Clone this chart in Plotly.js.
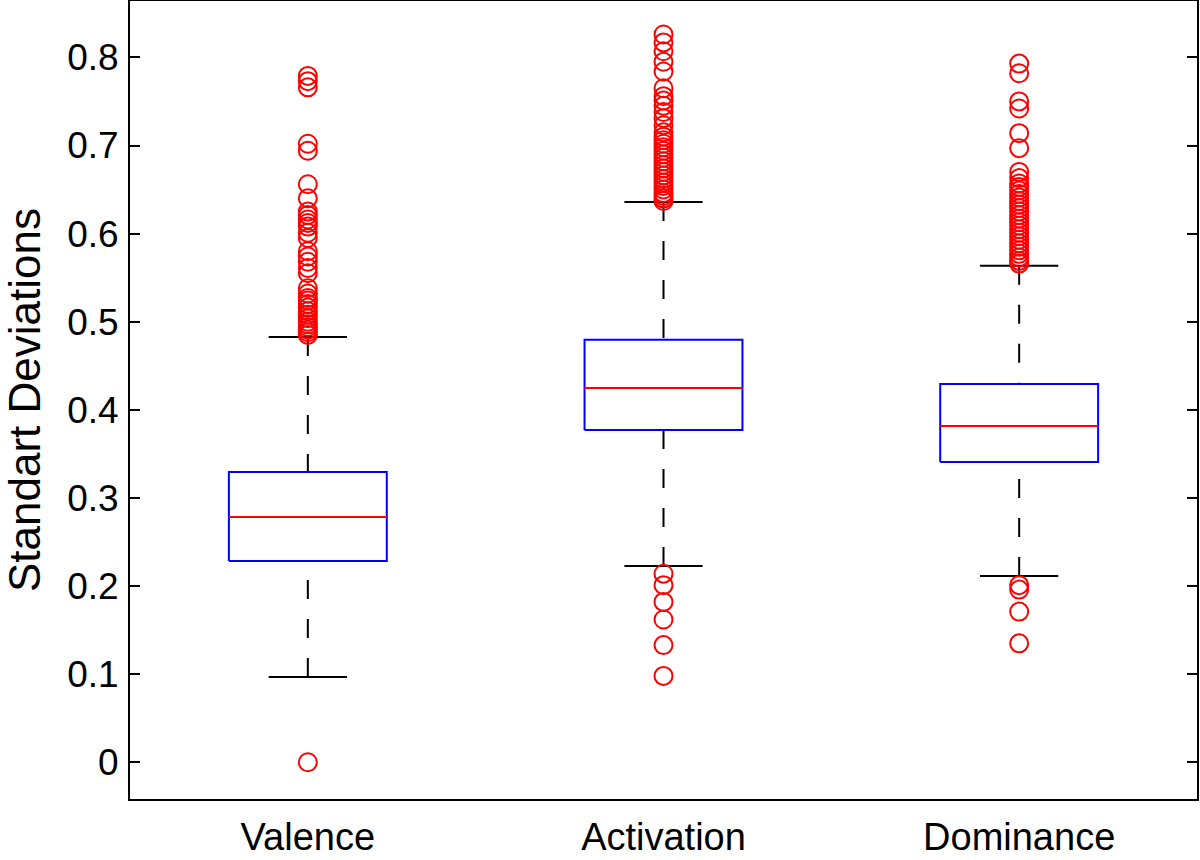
<!DOCTYPE html>
<html>
<head>
<meta charset="utf-8">
<script src="https://cdn.plot.ly/plotly-3.0.1.min.js"></script>
<style>html,body{margin:0;padding:0;background:#fff;}#chart{width:1200px;height:860px;}</style>
</head>
<body>
<div id="chart"></div>
<script>
const categories = ['Valence', 'Activation', 'Dominance'];
const q1 = [0.2285, 0.3772, 0.3409];
const medians = [0.2784, 0.4249, 0.3817];
const q3 = [0.3295, 0.4794, 0.4294];
const lowerWhisker = [0.0968, 0.2228, 0.2115];
const upperWhisker = [0.4827, 0.6360, 0.5634];

const valenceOutliers = [0.779, 0.773, 0.766, 0.702, 0.694, 0.656, 0.640,
  0.625, 0.621, 0.616, 0.612, 0.608, 0.601, 0.595, 0.580, 0.574, 0.568, 0.561, 0.555,
  0.538, 0.532, 0.527, 0.524, 0.520, 0.516, 0.512, 0.508, 0.504, 0.500, 0.497,
  0.494, 0.491, 0.488, 0.485, 0.0];
const activationOutliers = [0.826, 0.817, 0.807, 0.795, 0.784, 0.765, 0.756, 0.751,
  0.745, 0.738, 0.731, 0.723, 0.715, 0.710, 0.706, 0.702, 0.698, 0.694, 0.690, 0.686,
  0.682, 0.678, 0.674, 0.670, 0.666, 0.662, 0.658, 0.654, 0.650, 0.646, 0.643, 0.640,
  0.637, 0.214, 0.201, 0.182, 0.162, 0.133, 0.098];
const dominanceOutliers = [0.793, 0.782, 0.750, 0.742, 0.714, 0.697, 0.670, 0.663,
  0.657, 0.653, 0.649, 0.645, 0.641, 0.637, 0.633, 0.629, 0.625, 0.621, 0.617, 0.613,
  0.609, 0.605, 0.601, 0.597, 0.593, 0.589, 0.585, 0.581, 0.577, 0.573, 0.569, 0.566,
  0.201, 0.196, 0.171, 0.135];
const outliers = [valenceOutliers, activationOutliers, dominanceOutliers];

const boxHalf = 0.222;
const capHalf = 0.11;
const traces = [];
const positions = categories.map((c, i) => i + 1);

// whiskers (dashed, black)
positions.forEach((p, i) => {
  traces.push({x: [p, p], y: [upperWhisker[i], q3[i]], mode: 'lines', line: {color: '#000', width: 2, dash: '19px,20px'}, hoverinfo: 'skip'});
  traces.push({x: [p, p], y: [lowerWhisker[i], q1[i]], mode: 'lines', line: {color: '#000', width: 2, dash: '19px,20px'}, hoverinfo: 'skip'});
});
// caps
positions.forEach((p, i) => {
  traces.push({x: [p - capHalf, p + capHalf], y: [upperWhisker[i], upperWhisker[i]], mode: 'lines', line: {color: '#000', width: 2}, hoverinfo: 'skip'});
  traces.push({x: [p - capHalf, p + capHalf], y: [lowerWhisker[i], lowerWhisker[i]], mode: 'lines', line: {color: '#000', width: 2}, hoverinfo: 'skip'});
});
// boxes
positions.forEach((p, i) => {
  traces.push({x: [p - boxHalf, p + boxHalf, p + boxHalf, p - boxHalf, p - boxHalf], y: [q1[i], q1[i], q3[i], q3[i], q1[i]], mode: 'lines', line: {color: '#0000ff', width: 2}, hoverinfo: 'skip'});
});
// medians
positions.forEach((p, i) => {
  traces.push({x: [p - boxHalf, p + boxHalf], y: [medians[i], medians[i]], mode: 'lines', line: {color: '#ff0000', width: 2}, hoverinfo: 'skip'});
});
// outliers
positions.forEach((p, i) => {
  traces.push({x: outliers[i].map(() => p), y: outliers[i], mode: 'markers', marker: {symbol: 'circle-open', size: 18, color: '#ff0000', line: {width: 2, color: '#ff0000'}}});
});

const font = {family: 'Liberation Sans, Arial, Helvetica, sans-serif', color: '#000'};
const layout = {
  width: 1200, height: 860,
  margin: {l: 130, r: 3, t: 1, b: 61},
  paper_bgcolor: '#fff', plot_bgcolor: '#fff',
  showlegend: false,
  font: font,
  xaxis: {
    range: [0.5, 3.5], tickvals: positions, ticktext: categories,
    ticks: '', showgrid: false, zeroline: false,
    showline: true, linecolor: '#000', linewidth: 2, mirror: true,
    tickfont: {family: font.family, size: 38, color: '#000'},
    ticklabelstandoff: 3
  },
  yaxis: {
    range: [-0.0417, 0.864], tickvals: [0, 0.1, 0.2, 0.3, 0.4, 0.5, 0.6, 0.7, 0.8],
    ticktext: ['0', '0.1', '0.2', '0.3', '0.4', '0.5', '0.6', '0.7', '0.8'],
    ticks: 'inside', ticklen: 10, tickwidth: 2, tickcolor: '#000',
    showgrid: false, zeroline: false,
    showline: true, linecolor: '#000', linewidth: 2, mirror: 'ticks',
    tickfont: {family: font.family, size: 37, color: '#000'},
    ticklabelstandoff: 2,
    title: {text: 'Standart Deviations', font: {family: font.family, size: 44, color: '#000'}, standoff: 16}
  }
};
Plotly.newPlot('chart', traces, layout, {displayModeBar: false, staticPlot: true});
</script>
</body>
</html>
